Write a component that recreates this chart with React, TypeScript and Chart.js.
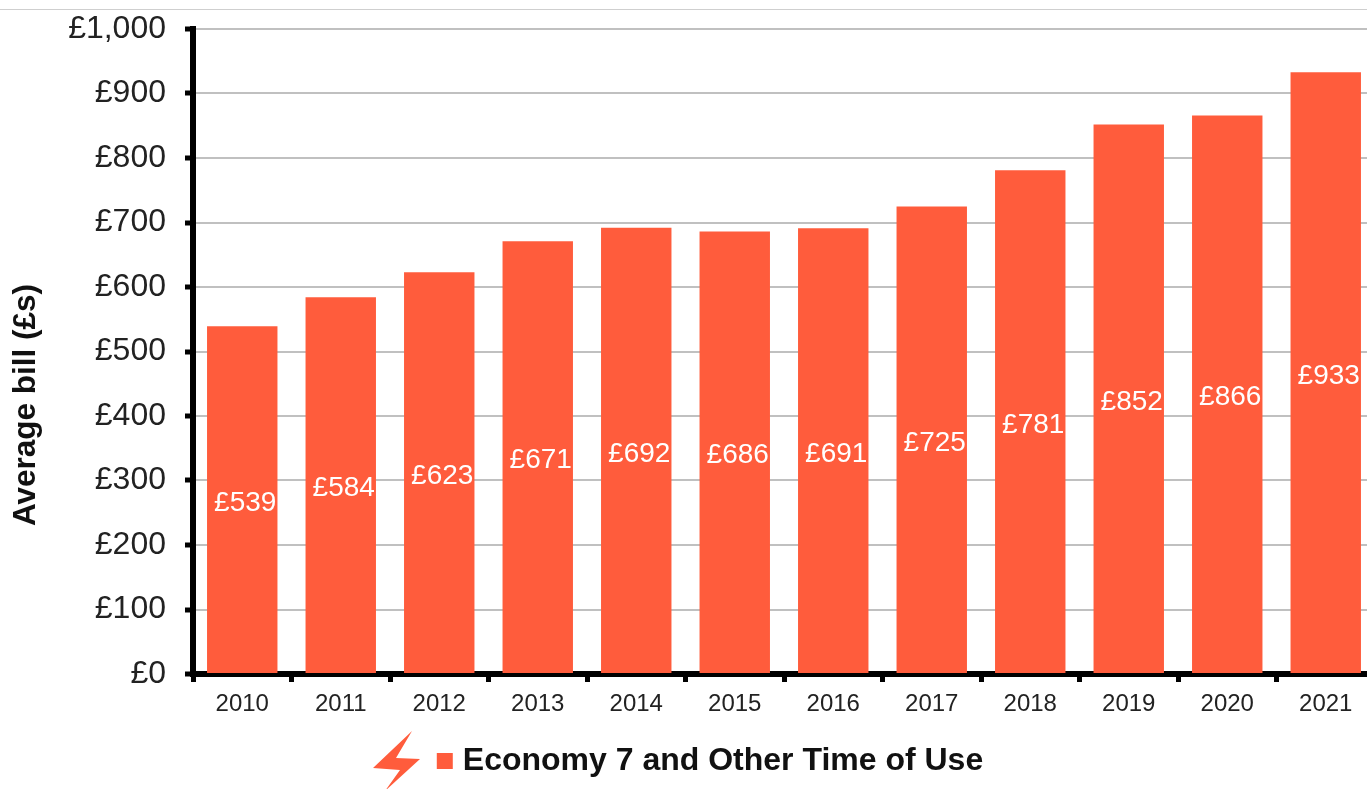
import React, { useEffect, useRef } from "react";
import { Chart, registerables } from "chart.js";

Chart.register(...registerables);

const categories = ["2010", "2011", "2012", "2013", "2014", "2015", "2016", "2017", "2018", "2019", "2020", "2021"];
const averageBill = [539, 584, 623, 671, 692, 686, 691, 725, 781, 852, 866, 933];
const seriesName = "Economy 7 and Other Time of Use";
const axisTitle = "Average bill (£s)";
const ORANGE = "#FF5C3C";
const FONT = "'Liberation Sans', Arial, sans-serif";

const gbp = (v: number) => "£" + v.toLocaleString("en-GB");

const barLabels = {
  id: "barLabels",
  afterDatasetsDraw(chart: any) {
    const { ctx } = chart;
    const meta = chart.getDatasetMeta(0);
    const y0 = chart.scales.y.getPixelForValue(0);
    ctx.save();
    ctx.fillStyle = "#fff";
    ctx.font = `28px ${FONT}`;
    ctx.textAlign = "center";
    ctx.textBaseline = "middle";
    meta.data.forEach((bar: any, i: number) => {
      ctx.fillText(gbp(averageBill[i]), bar.x + 3, (bar.y + y0) / 2 + 3);
    });
    ctx.restore();
  },
};

const yTitle = {
  id: "yTitle",
  afterDraw(chart: any) {
    const { ctx } = chart;
    ctx.save();
    ctx.translate(26, chart.scales.y.getPixelForValue(417));
    ctx.rotate(-Math.PI / 2);
    ctx.fillStyle = "#111";
    ctx.font = `bold 31.5px ${FONT}`;
    ctx.textAlign = "center";
    ctx.textBaseline = "middle";
    ctx.fillText(axisTitle, 0, 0);
    ctx.restore();
  },
};

const legendShift = {
  id: "legendShift",
  afterLayout(chart: any) {
    chart.legend.left += 25.5;
    chart.legend.right += 25.5;
  },
};

export default function App() {
  const ref = useRef<HTMLCanvasElement>(null);
  useEffect(() => {
    document.body.style.margin = "0";
    const chart = new Chart(ref.current as HTMLCanvasElement, {
      type: "bar",
      data: {
        labels: categories,
        datasets: [
          {
            label: seriesName,
            data: averageBill,
            backgroundColor: ORANGE,
            categoryPercentage: 1,
            barPercentage: 0.715,
          },
        ],
      },
      plugins: [barLabels, yTitle, legendShift],
      options: {
        animation: false,
        responsive: false,
        layout: { padding: { top: 29, right: 45, left: 0, bottom: 2 } },
        plugins: {
          tooltip: { enabled: false },
          legend: {
            position: "bottom",
            onClick: undefined,
            labels: {
              usePointStyle: true,
              pointStyle: "rect",
              boxWidth: 4,
              boxHeight: 16,
              padding: 14,
              color: "#111",
              font: { family: FONT, size: 32, weight: "bold" },
            },
          },
        },
        scales: {
          x: {
            afterFit(scale: any) {
              scale.height = 57;
            },
            grid: {
              offset: true,
              drawOnChartArea: false,
              drawTicks: true,
              color: "#000",
              tickColor: "#000",
              tickWidth: 5,
              tickLength: 8,
            },
            border: { color: "#000", width: 6 },
            ticks: {
              color: "#222",
              font: { family: FONT, size: 24 },
              padding: 8,
              autoSkip: false,
              maxRotation: 0,
            },
          },
          y: {
            min: 0,
            max: 1000,
            afterFit(scale: any) {
              scale.width = 193;
              scale.paddingTop = 0;
            },
            grid: {
              color: "#C0C0C0",
              lineWidth: 2,
              tickColor: "#000",
              tickWidth: 5,
              tickLength: 8,
            },
            border: { color: "#000", width: 6 },
            ticks: {
              stepSize: 100,
              color: "#222",
              font: { family: FONT, size: 32 },
              padding: 19,
              callback: (v: any) => gbp(Number(v)),
            },
          },
        },
      },
    } as any);
    return () => chart.destroy();
  }, []);

  return (
    <div style={{ position: "absolute", left: 0, top: 0, width: 1367, height: 789, overflow: "hidden", background: "#fff" }}>
      <canvas ref={ref} width={1420} height={789} style={{ display: "block", width: 1420, height: 789 }} />
      <div style={{ position: "absolute", left: 0, top: 9, width: 1367, height: 1, background: "#CFCFCF" }} />
      <svg width={60} height={60} viewBox="0 0 60 60" style={{ position: "absolute", left: 365, top: 729 }}>
        <polygon points="47,2 8,39 35,41 20,62 55,30 31,29" fill={ORANGE} />
      </svg>
    </div>
  );
}
